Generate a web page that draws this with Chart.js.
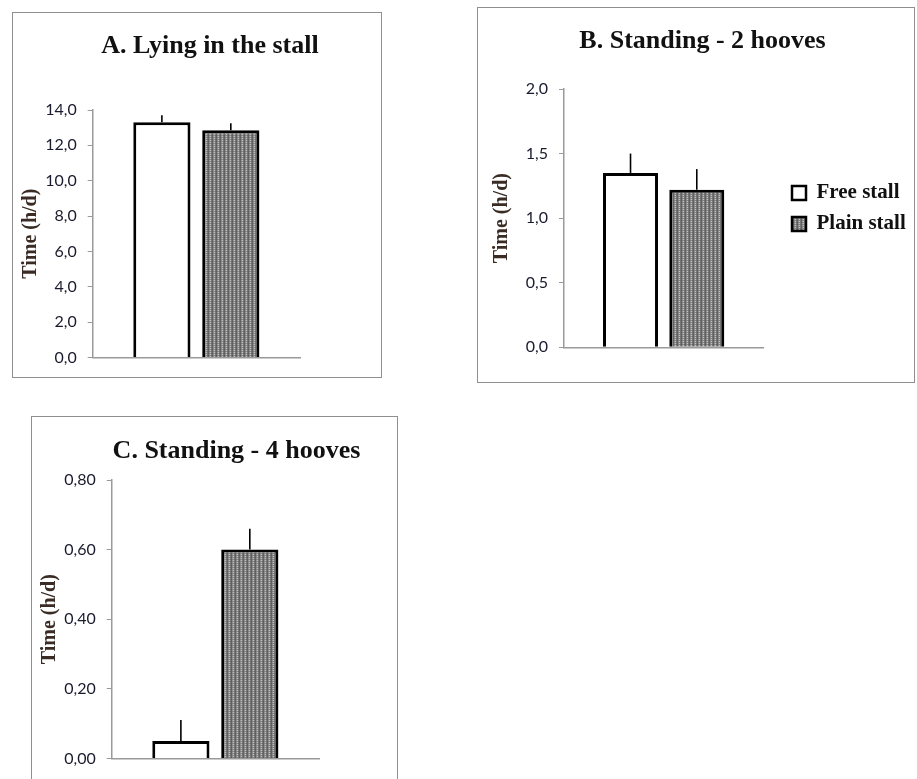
<!DOCTYPE html>
<html><head><meta charset="utf-8">
<script src="https://cdn.jsdelivr.net/npm/chart.js@4"></script>
<style>
html,body{margin:0;padding:0;width:917px;height:779px;overflow:hidden;background:#fff;}
.frame{position:absolute;box-sizing:border-box;border:1px solid #8f8f8f;}
canvas{position:absolute;}
</style></head><body>
<div class="frame" style="left:12px;top:12px;width:370px;height:366px"></div>
<div class="frame" style="left:477px;top:7px;width:438px;height:376px"></div>
<div class="frame" style="left:31px;top:416px;width:367px;height:380px"></div>
<canvas id="cA" width="396" height="366" style="left:12px;top:12px"></canvas>
<canvas id="cB" width="451" height="376" style="left:477px;top:7px"></canvas>
<canvas id="cC" width="411" height="363" style="left:31px;top:416px"></canvas>
<script>
// ---- data ----
const seriesNames = ['Free stall', 'Plain stall'];
const panelTitles = ['A. Lying in the stall', 'B. Standing - 2 hooves', 'C. Standing - 4 hooves'];
const axisTitle = 'Time (h/d)';
const lyingMeans = [13.3, 12.85];
const lyingErrors = [0.4, 0.4];
const stand2Means = [1.35, 1.22];
const stand2Errors = [0.15, 0.16];
const stand4Means = [0.05, 0.60];
const stand4Errors = [0.06, 0.06];
const ticksA = ['0,0', '2,0', '4,0', '6,0', '8,0', '10,0', '12,0', '14,0'];
const ticksB = ['0,0', '0,5', '1,0', '1,5', '2,0'];
const ticksC = ['0,00', '0,20', '0,40', '0,60', '0,80'];

const num = s => parseFloat(s.replace(',', '.'));

function makePattern() {
  const c = document.createElement('canvas');
  c.width = 4; c.height = 4;
  const g = c.getContext('2d');
  const cols = [
    ['#666666', '#5c5c5c', '#666666', '#5c5c5c'],
    ['#929292', '#808080', '#929292', '#808080'],
    ['#c2c2c2', '#848484', '#c2c2c2', '#848484'],
    ['#7a7a7a', '#6e6e6e', '#7a7a7a', '#6e6e6e']
  ];
  for (let x = 0; x < 4; x++) for (let y = 0; y < 4; y++) { g.fillStyle = cols[x][y]; g.fillRect(x, y, 1, 1); }
  return g.createPattern(c, 'repeat');
}
const pattern = makePattern();

const errorBars = {
  id: 'errorBars',
  afterDatasetsDraw(chart) {
    const ctx = chart.ctx, y = chart.scales.y;
    chart.data.datasets.forEach((ds, i) => {
      const meta = chart.getDatasetMeta(i);
      meta.data.forEach((bar, j) => {
        const top = y.getPixelForValue(ds.data[j] + ds.errors[j]);
        ctx.save();
        ctx.strokeStyle = '#000';
        ctx.lineWidth = 1.6;
        ctx.beginPath();
        ctx.moveTo(bar.x, bar.y);
        ctx.lineTo(bar.x, top);
        ctx.stroke();
        ctx.restore();
      });
    });
  }
};

const legendShift = {
  id: 'legendShift',
  afterLayout(chart, args, opts) {
    const l = chart.legend;
    if (!opts || opts.gap === undefined || !l || !l.options.display) return;
    const ca = chart.chartArea, h = l.height;
    l.left = ca.right + opts.gap; l.width = opts.width; l.right = l.left + opts.width;
    l.top = ca.top + opts.dy; l.bottom = l.top + h;
  }
};

function buildPanel(id, o) {
  return new Chart(document.getElementById(id), {
    type: 'bar',
    data: {
      labels: [''],
      datasets: seriesNames.map((name, i) => ({
        label: name,
        data: [o.means[i]],
        errors: [o.errors[i]],
        backgroundColor: i === 0 ? '#ffffff' : pattern,
        borderColor: '#000000',
        borderWidth: 3,
        borderSkipped: 'start',
        categoryPercentage: 0.665,
        barPercentage: 0.83
      }))
    },
    options: {
      responsive: false,
      animation: false,
      events: [],
      layout: { padding: { left: 0, right: 0, top: 0, bottom: o.padBottom } },
      plugins: {
        title: {
          display: true, text: o.title, color: '#111111',
          font: { family: 'Liberation Serif', size: 26, weight: 'bold' },
          padding: { top: o.titleTop, bottom: o.titleBottom }
        },
        legend: o.legend ? {
          display: true, position: 'right', maxWidth: 60,
          labels: {
            font: { family: 'Liberation Serif', size: 21, weight: 'bold' },
            color: '#111111', boxWidth: 14, boxHeight: 14, padding: 10,
            generateLabels: ch => Chart.defaults.plugins.legend.labels.generateLabels(ch).map(l => Object.assign(l, { lineWidth: 2.5 }))
          }
        } : { display: false },
        tooltip: { enabled: false },
        legendShift: o.legend ? { gap: 18.7, dy: -50.6, width: 150 } : false
      },
      scales: {
        x: {
          grid: { display: true, drawOnChartArea: false, drawTicks: false },
          border: { color: '#9a9a9a', width: 1.5 },
          ticks: { display: false },
          afterFit: s => { s.height = 0; }
        },
        y: {
          min: 0, max: num(o.ticks[o.ticks.length - 1]),
          ticks: {
            stepSize: num(o.ticks[1]),
            callback: (v, i) => o.ticks[i],
            font: { family: 'Lato', size: 16 }, color: '#1a1a2e', padding: 11
          },
          grid: { drawOnChartArea: false, drawTicks: true, tickLength: 5, color: '#9a9a9a' },
          border: { color: '#9a9a9a', width: 1.5 },
          title: {
            display: true, text: axisTitle, color: '#3a2c24',
            font: { family: 'Liberation Serif', size: 20, weight: 'bold' },
            padding: { top: o.yTitlePad, bottom: 0 }
          },
          afterFit: s => { s.width = o.yWidth; }
        },
        pad: {
          type: 'linear', position: 'right', display: true,
          grid: { display: false }, border: { display: false }, ticks: { display: false },
          afterFit: s => { s.width = o.rightWidth; }
        }
      }
    },
    plugins: [errorBars, legendShift]
  });
}

buildPanel('cA', { title: panelTitles[0], means: lyingMeans, errors: lyingErrors, ticks: ticksA,
  yWidth: 80.7, rightWidth: 108, padBottom: 14.7, titleTop: 18.4, titleBottom: 48.4, yTitlePad: 7, legend: false });
buildPanel('cB', { title: panelTitles[1], means: stand2Means, errors: stand2Errors, ticks: ticksB,
  yWidth: 87, rightWidth: 104.7, padBottom: 35.7, titleTop: 19.1, titleBottom: 31.7, yTitlePad: 13, legend: true });
buildPanel('cC', { title: panelTitles[2], means: stand4Means, errors: stand4Errors, ticks: ticksC,
  yWidth: 80.7, rightWidth: 123, padBottom: 13, titleTop: 20.1, titleBottom: 12.7, yTitlePad: 7, legend: false });
</script>
</body></html>
